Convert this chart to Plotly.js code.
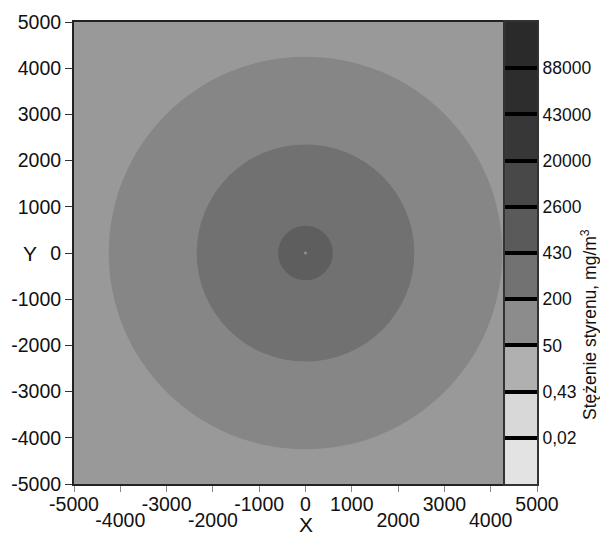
<!DOCTYPE html>
<html>
<head>
<meta charset="utf-8">
<script src="https://cdn.plot.ly/plotly-3.0.1.min.js"></script>
<style>html,body{margin:0;padding:0;background:#fff;}#chart{width:600px;height:535px;}</style>
</head>
<body>
<div id="chart"></div>
<script>
// ---- data ----
const levelLabels = ['0,02', '0,43', '50', '200', '430', '2600', '20000', '43000', '88000'];
const binIndex = [0, 1, 2, 3, 4, 5, 6, 7, 8, 9];
const binColors = ['#e3e3e3', '#d8d8d8', '#b0b0b0', '#8c8c8c', '#727272', '#5a5a5a', '#484848', '#373737', '#2d2d2d', '#2a2a2a'];
const backgroundColor = '#999999';
const circleRadii = [4250, 2350, 590, 35];
const circleColors = ['#868686', '#717171', '#5e5e5e', '#8e8e8e'];
const circleCenterX = 0;
const circleCenterY = 0;
const xTickVals = [-5000, -4000, -3000, -2000, -1000, 0, 1000, 2000, 3000, 4000, 5000];
const xUpperVals = [-5000, -3000, -1000, 0, 1000, 3000, 5000];
const xUpperText = ['-5000', '-3000', '-1000', '0', '1000', '3000', '5000'];
const xLowerVals = [-4000, -2000, 2000, 4000];
const xLowerText = ['-4000', '-2000', '2000', '4000'];
const yTickVals = [-5000, -4000, -3000, -2000, -1000, 0, 1000, 2000, 3000, 4000, 5000];
const yTickText = ['-5000', '-4000', '-3000', '-2000', '-1000', '0', '1000', '2000', '3000', '4000', '5000'];

// ---- build ----
const n = binColors.length;
const colorscale = [];
binColors.forEach((c, i) => {
  colorscale.push([i / n, c]);
  colorscale.push([(i + 1) / n, c]);
});

const font = {family: 'Liberation Sans, Arial, sans-serif', color: '#111'};

const traces = [
  {type: 'scatter', xaxis: 'x', yaxis: 'y', x: [], y: [], mode: 'markers', hoverinfo: 'skip'},
  {type: 'scatter', xaxis: 'x3', yaxis: 'y', x: [], y: [], mode: 'markers', hoverinfo: 'skip'},
  {type: 'scatter', xaxis: 'x4', yaxis: 'y', x: [], y: [], mode: 'markers', hoverinfo: 'skip'},
  {
    type: 'heatmap',
    xaxis: 'x2', yaxis: 'y2',
    x: [0.5],
    y: binIndex,
    z: binIndex.map(v => [v]),
    zmin: -0.5, zmax: n - 0.5,
    colorscale: colorscale,
    showscale: false,
    hoverinfo: 'skip'
  }
];

const shapes = circleRadii.map((r, i) => ({
  type: 'circle', xref: 'x', yref: 'y', layer: 'below',
  x0: circleCenterX - r, x1: circleCenterX + r,
  y0: circleCenterY - r, y1: circleCenterY + r,
  fillcolor: circleColors[i], line: {width: 0}
}));

const tickFontSize = 19.5;

const layout = {
  width: 600, height: 535,
  margin: {l: 74, r: 63, t: 22, b: 51},
  paper_bgcolor: '#ffffff',
  plot_bgcolor: backgroundColor,
  showlegend: false,
  font: Object.assign({size: 18}, font),
  // main x axis: line, tick marks only
  xaxis: {
    domain: [0, 1], range: [-5000, 5000], anchor: 'y',
    tickvals: xTickVals, showticklabels: false,
    ticks: 'outside', ticklen: 6, tickwidth: 1, tickcolor: '#888',
    showline: true, linecolor: '#222', linewidth: 2, mirror: true,
    showgrid: false, zeroline: false
  },
  // upper row of x tick labels
  xaxis3: {
    overlaying: 'x', anchor: 'y', side: 'bottom', range: [-5000, 5000],
    tickvals: xUpperVals, ticktext: xUpperText,
    ticks: '', ticklabelstandoff: 6,
    showline: false, showgrid: false, zeroline: false,
    tickfont: {size: tickFontSize}
  },
  // lower row of x tick labels
  xaxis4: {
    overlaying: 'x', anchor: 'y', side: 'bottom', range: [-5000, 5000],
    tickvals: xLowerVals, ticktext: xLowerText,
    ticks: '', ticklabelstandoff: 22,
    showline: false, showgrid: false, zeroline: false,
    tickfont: {size: tickFontSize}
  },
  yaxis: {
    domain: [0, 1], range: [-5000, 5000], anchor: 'x',
    tickvals: yTickVals, ticktext: yTickText,
    ticks: 'outside', ticklen: 7, tickwidth: 1, tickcolor: '#333',
    showline: true, linecolor: '#222', linewidth: 2, mirror: true,
    showgrid: false, zeroline: false,
    tickfont: {size: tickFontSize}
  },
  xaxis2: {
    domain: [0.931, 1], range: [0, 1], anchor: 'y2',
    showticklabels: false, ticks: '', showgrid: false, zeroline: false,
    showline: true, linecolor: '#333', linewidth: 2, mirror: true
  },
  yaxis2: {
    domain: [0, 1], range: [-0.5, n - 0.5], anchor: 'x2', side: 'right',
    tickvals: levelLabels.map((_, i) => i + 0.5), ticktext: levelLabels,
    ticks: 'inside', ticklen: 32, tickwidth: 4, tickcolor: '#000',
    layer: 'above traces',
    showline: true, linecolor: '#333', linewidth: 2, mirror: true,
    showgrid: false, zeroline: false,
    tickfont: {size: 17.5}
  },
  shapes: shapes,
  annotations: [
    {text: 'Y', xref: 'paper', yref: 'paper', x: -0.095, y: 0.5, xanchor: 'center', yanchor: 'middle', showarrow: false, font: {size: 21}},
    {text: 'X', xref: 'paper', yref: 'paper', x: 0.5, y: -0.087, xanchor: 'center', yanchor: 'middle', showarrow: false, font: {size: 21}},
    {text: 'Stężenie styrenu, mg/m<sup>3</sup>', xref: 'paper', yref: 'paper', x: 1.112, y: 0.346, xanchor: 'center', yanchor: 'middle', textangle: -90, showarrow: false, font: {size: 17.5}}
  ]
};

Plotly.newPlot('chart', traces, layout, {staticPlot: true, displayModeBar: false});
</script>
</body>
</html>
